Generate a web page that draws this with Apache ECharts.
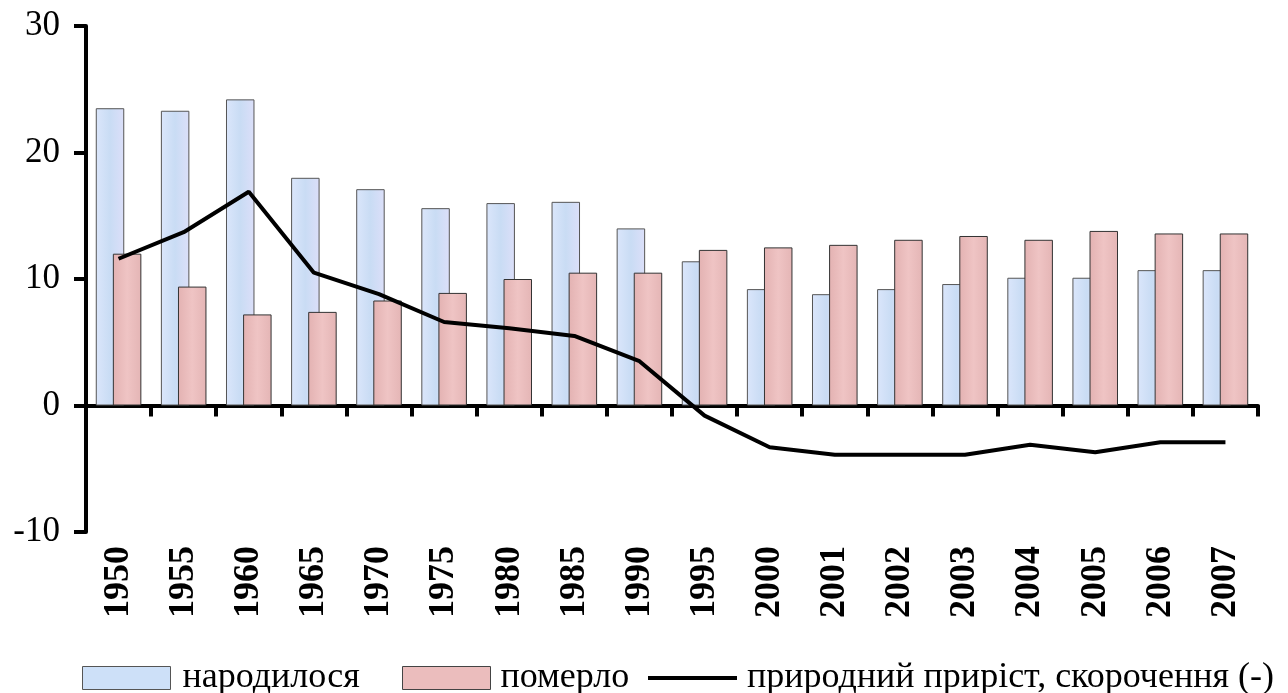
<!DOCTYPE html>
<html>
<head>
<meta charset="utf-8">
<script src="https://cdn.jsdelivr.net/npm/echarts@6/dist/echarts.min.js"></script>
<style>html,body{margin:0;padding:0;background:#fff;}#c{width:1288px;height:693px;}</style>
</head>
<body>
<div id="c"></div>
<script>
const years = ['1950','1955','1960','1965','1970','1975','1980','1985','1990','1995','2000','2001','2002','2003','2004','2005','2006','2007'];
const born = [23.5,23.3,24.2,18.0,17.1,15.6,16.0,16.1,14.0,11.4,9.2,8.8,9.2,9.6,10.1,10.1,10.7,10.7];
const died = [12.0,9.4,7.2,7.4,8.3,8.9,10.0,10.5,10.5,12.3,12.5,12.7,13.1,13.4,13.1,13.8,13.6,13.6];
const natural = [11.6,13.7,16.9,10.5,8.8,6.6,6.1,5.5,3.5,-0.8,-3.3,-3.9,-3.9,-3.9,-3.1,-3.7,-2.9,-2.9];
const seriesNames = ['народилося','померло','природний приріст, скорочення (-)'];

const font = '"Liberation Serif","Times New Roman",serif';
const chart = echarts.init(document.getElementById('c'), null, {renderer:'canvas'});
const blueFill = new echarts.graphic.LinearGradient(0,0,1,0,[
  {offset:0,color:'#dbe6fb'},{offset:0.5,color:'#c9dcf4'},{offset:1,color:'#dcdff9'}]);
const pinkFill = new echarts.graphic.LinearGradient(0,0,1,0,[
  {offset:0,color:'#e3b2b2'},{offset:0.5,color:'#efc4c4'},{offset:1,color:'#e4b5b5'}]);
function legText(pad){ return {fontFamily:font,fontSize:36,color:'#000',padding:[0,0,0,pad]}; }
chart.setOption({
  animation:false,
  textStyle:{fontFamily:font},
  grid:{left:86,right:30,top:26,bottom:161,containLabel:false},
  legend:[
    {top:655,left:77,itemWidth:88,itemHeight:23,textStyle:legText(7),selectedMode:false,
     data:[{name:seriesNames[0],icon:'rect',textStyle:legText(7),itemStyle:{color:'#cde0f8',borderColor:'#555',borderWidth:1}}]},
    {top:655,left:397,itemWidth:88,itemHeight:23,textStyle:legText(5),selectedMode:false,
     data:[{name:seriesNames[1],icon:'rect',textStyle:legText(5),itemStyle:{color:'#ebbdbd',borderColor:'#444',borderWidth:1}}]},
    {top:655,left:643,itemWidth:89,itemHeight:4,textStyle:legText(5),selectedMode:false,
     data:[{name:seriesNames[2],icon:'rect',textStyle:legText(5),itemStyle:{color:'#000',borderWidth:0}}]}
  ],
  xAxis:[
    {type:'category',data:years,position:'bottom',
     axisLine:{show:false,onZero:false},axisTick:{show:false},
     axisLabel:{rotate:90,margin:14,fontFamily:font,fontSize:36,fontWeight:'bold',color:'#000',interval:0}},
    {type:'category',data:years,position:'bottom',
     axisLine:{show:true,onZero:true,lineStyle:{color:'#000',width:4}},
     axisTick:{show:true,length:11,interval:0,lineStyle:{color:'#000',width:4}},
     axisLabel:{show:false}}
  ],
  yAxis:{type:'value',min:-10,max:30,interval:10,
    axisLine:{show:true,onZero:false,lineStyle:{color:'#000',width:4}},
    axisTick:{show:true,length:12,lineStyle:{color:'#000',width:4}},
    splitLine:{show:false},
    axisLabel:{margin:26,fontFamily:font,fontSize:35,color:'#000'}},
  series:[
    {name:seriesNames[0],type:'bar',data:born,xAxisIndex:0,barGap:'-40%',barCategoryGap:'30%',
     itemStyle:{color:blueFill,borderColor:'#555',borderWidth:1},z:2},
    {name:seriesNames[1],type:'bar',data:died,xAxisIndex:0,
     itemStyle:{color:pinkFill,borderColor:'#333',borderWidth:1},z:3},
    {name:seriesNames[2],type:'line',data:natural,xAxisIndex:0,symbol:'none',
     lineStyle:{color:'#000',width:4},itemStyle:{color:'#000'},z:5}
  ]
});
</script>
</body>
</html>
